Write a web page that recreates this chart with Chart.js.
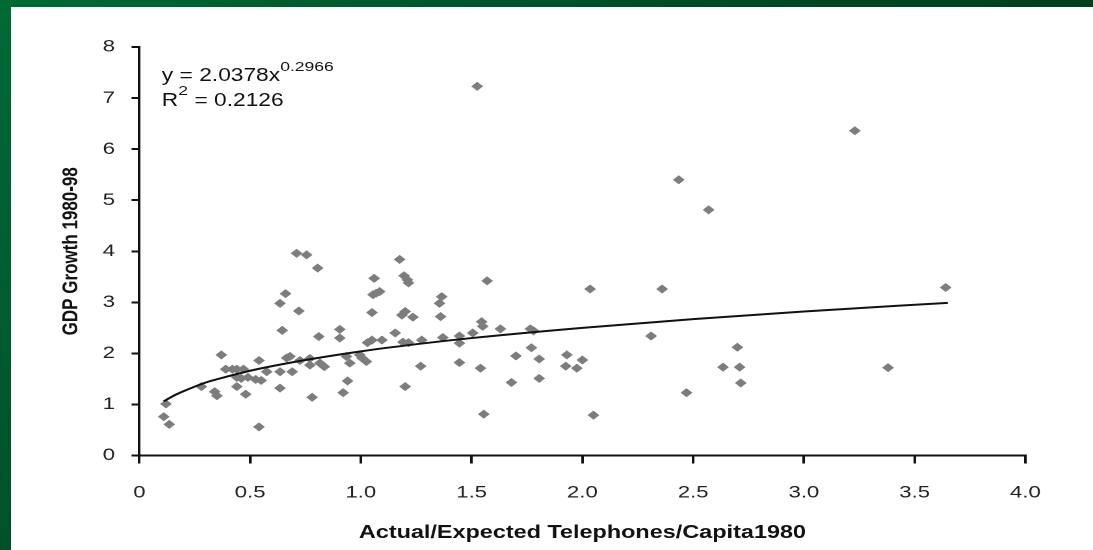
<!DOCTYPE html>
<html>
<head>
<meta charset="utf-8">
<script src="https://cdn.jsdelivr.net/npm/chart.js@4.4.1/dist/chart.umd.min.js"></script>
<style>
  html, body { margin: 0; padding: 0; }
  body {
    width: 1093px; height: 550px; overflow: hidden; position: relative;
    background: linear-gradient(135deg, #006a35 0%, #004824 45%, #00301a 100%);
  }
  #panel { position: absolute; left: 11px; top: 7px; right: 0; bottom: 0; background: #fff; }
  #wrap {
    position: absolute; left: 11px; top: 7px; width: 832px; height: 543px;
    transform: scaleX(1.30048); transform-origin: 0 0;
  }
  .eq {
    position: absolute; left: 116px; font-family: "Liberation Sans", Arial, sans-serif;
    font-size: 17.5px; line-height: 20px; color: #111; white-space: nowrap;
  }
  .eq span { font-size: 13.5px; position: relative; top: -10px; }
</style>
</head>
<body>
<div id="panel"></div>
<div id="wrap">
  <canvas id="c"></canvas>
  <div class="eq" style="top:57.5px">y = 2.0378x<span>0.2966</span></div>
  <div class="eq" style="top:83px">R<span style="top:-11px">2</span> = 0.2126</div>
</div>
<script>
// Scatter data
const xValues = [0.11,0.12,0.135,0.28,0.34,0.35,0.37,0.39,0.42,0.44,0.47,0.44,0.46,0.49,0.44,0.48,
  0.525,0.54,0.55,0.54,0.575,0.635,0.635,0.635,0.66,0.645,0.665,0.68,0.69,0.71,0.755,0.72,0.725,
  0.77,0.77,0.78,0.805,0.81,0.815,0.835,0.905,0.905,0.92,0.94,0.935,0.95,0.995,1.005,1.025,1.05,
  1.055,1.06,1.07,1.085,1.03,1.05,1.095,1.155,1.175,1.185,1.20,1.195,1.21,1.215,1.20,1.19,1.215,
  1.235,1.27,1.275,1.355,1.365,1.36,1.37,1.445,1.445,1.445,1.505,1.545,1.55,1.57,1.54,1.555,1.63,
  1.68,1.70,1.765,1.78,1.77,1.805,1.805,1.93,1.925,1.975,2.0,2.035,2.05,2.31,2.36,2.47,2.635,2.70,
  2.71,2.715,3.38,3.64,1.525,2.435,2.57,3.23];
const yValues = [0.76,1.01,0.61,1.35,1.25,1.17,1.97,1.69,1.69,1.69,1.69,1.53,1.51,1.53,1.35,1.20,
  1.49,1.86,1.47,0.56,1.64,1.64,1.32,2.98,3.17,2.45,1.91,1.94,1.64,3.96,3.93,2.83,1.86,
  1.77,1.90,1.14,3.67,2.33,1.81,1.74,2.47,2.30,1.23,1.46,1.94,1.81,1.97,1.91,1.84,2.80,
  3.15,3.47,3.18,3.21,2.21,2.26,2.26,2.40,3.84,2.75,2.82,3.52,3.44,3.38,1.35,2.22,2.21,
  2.71,1.75,2.26,2.98,3.11,2.72,2.31,2.34,2.20,1.82,2.40,2.62,2.53,3.42,1.71,0.81,2.48,
  1.43,1.95,2.48,2.44,2.11,1.89,1.51,1.97,1.75,1.71,1.87,3.26,0.79,2.34,3.26,1.23,1.73,2.12,
  1.73,1.42,1.72,3.29,7.23,5.40,4.81,6.36];

// Power trend line
const trendX = [0.11,0.15,0.2,0.3,0.4,0.5,0.75,1.0,1.25,1.5,2.0,2.5,3.0,3.65];
const trendY = [1.06,1.16,1.26,1.43,1.55,1.66,1.87,2.04,2.18,2.30,2.50,2.67,2.82,2.99];

const xTitle = 'Actual/Expected Telephones/Capita1980';
const yTitle = 'GDP Growth 1980-98';

const points = xValues.map((x, i) => ({ x: x, y: yValues[i] }));
const trend = trendX.map((x, i) => ({ x: x, y: trendY[i] }));

const tickFont = { family: '"Liberation Sans", Arial, sans-serif', size: 17 };
const titleFontFamily = '"Liberation Sans", Arial, sans-serif';

new Chart(document.getElementById('c'), {
  type: 'scatter',
  data: {
    datasets: [
      {
        type: 'line', data: trend, borderColor: '#111', borderWidth: 2,
        pointRadius: 0, fill: false, cubicInterpolationMode: 'monotone', order: 0
      },
      {
        data: points, backgroundColor: '#7d7d7d', borderColor: '#7d7d7d', borderWidth: 0.5,
        pointStyle: 'rectRot', pointRadius: 4.3, order: 1
      }
    ]
  },
  options: {
    responsive: true, maintainAspectRatio: false, animation: false, devicePixelRatio: 2,
    layout: { padding: { top: 40, right: 52, left: 0, bottom: 0 } },
    plugins: { legend: { display: false }, tooltip: { enabled: false } },
    scales: {
      x: {
        type: 'linear', min: 0, max: 4,
        ticks: {
          stepSize: 0.5, autoSkip: false, maxRotation: 0, padding: 19.3,
          color: '#222', font: tickFont,
          callback: v => v === 0 ? '0' : v.toFixed(1)
        },
        grid: { drawOnChartArea: false, drawTicks: true, tickLength: 8, color: '#111', lineWidth: 2 },
        border: { display: true, color: '#111', width: 2 },
        title: {
          display: true, text: xTitle, color: '#111',
          font: { family: titleFontFamily, size: 18, weight: 'bold' },
          padding: { top: 0, bottom: 6.3 }
        },
        afterFit: s => { s.height = 94.5; }
      },
      y: {
        min: 0, max: 8,
        ticks: { stepSize: 1, padding: 12.7, color: '#222', font: tickFont },
        grid: { drawOnChartArea: false, drawTicks: true, tickLength: 6, color: '#111', lineWidth: 2 },
        border: { display: true, color: '#111', width: 2 },
        title: {
          display: true, text: yTitle, color: '#111',
          font: { family: titleFontFamily, size: 17, weight: 'bold' },
          padding: { top: 35.9, bottom: 0 }
        },
        afterFit: s => { s.width = 98.7; }
      }
    }
  }
});
</script>
</body>
</html>
